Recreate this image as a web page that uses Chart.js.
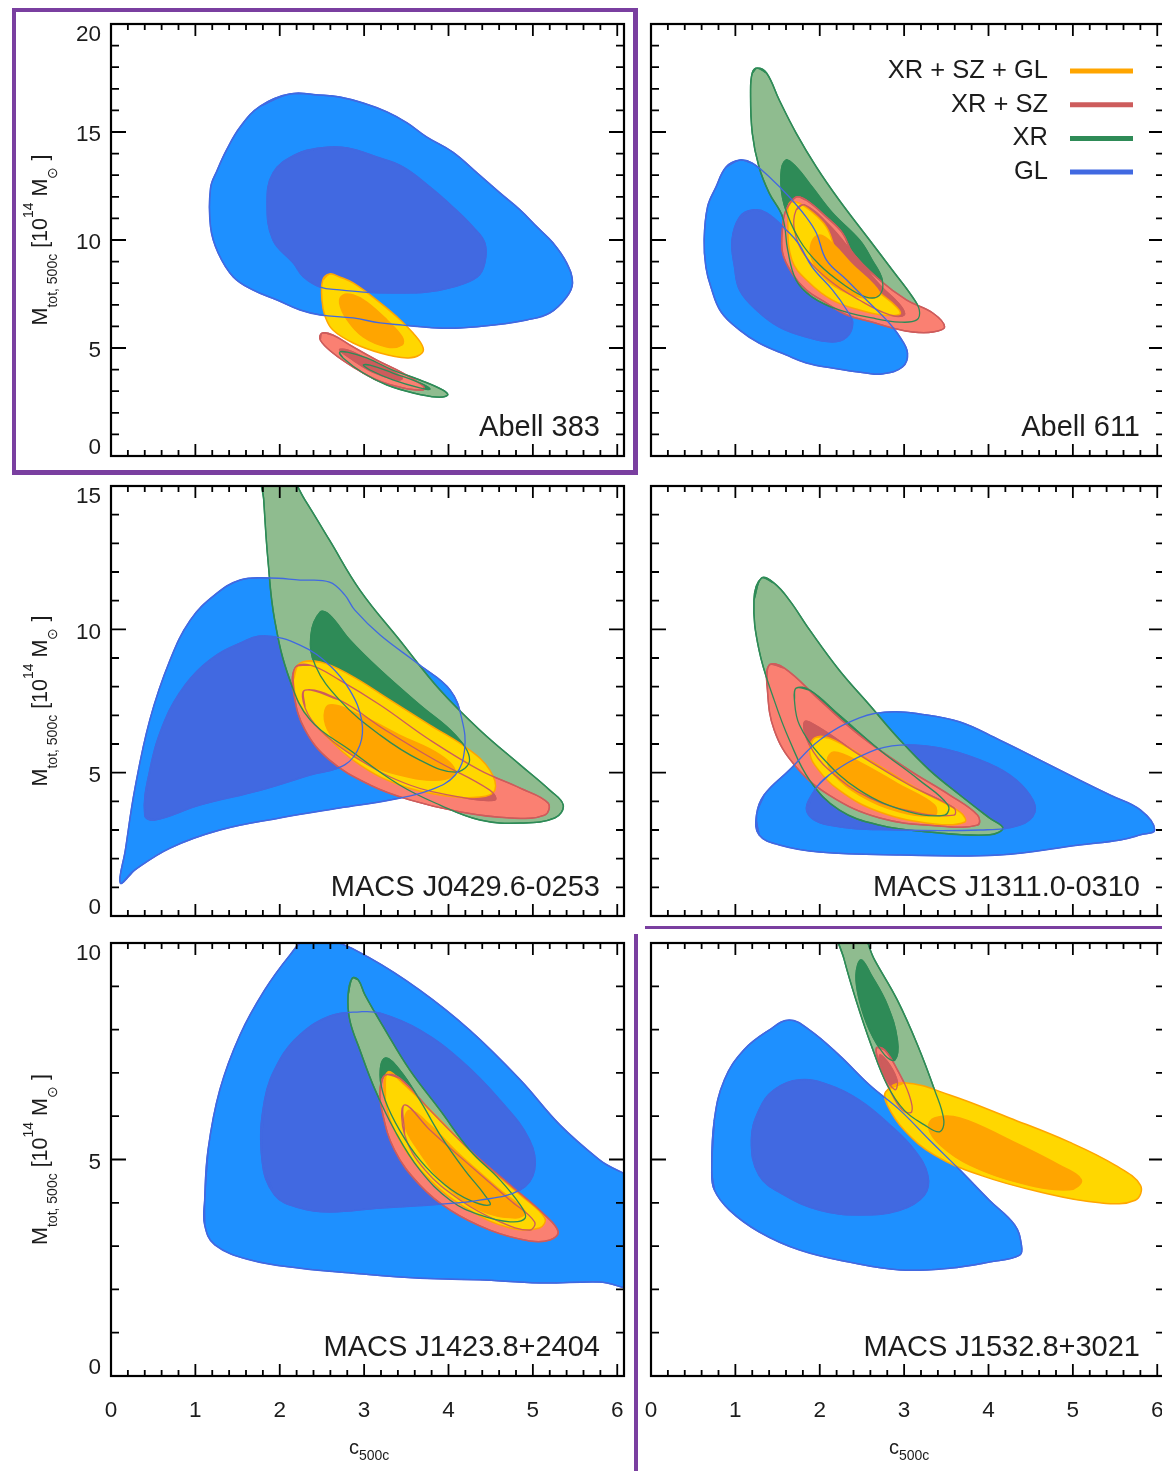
<!DOCTYPE html>
<html>
<head>
<meta charset="utf-8">
<title>c500c vs Mtot contours</title>
<script src="https://cdn.jsdelivr.net/npm/chart.js@4.4.1/dist/chart.umd.min.js"></script>
<style>
  html, body { margin: 0; padding: 0; background: #fff; overflow: hidden; }
  #page { position: relative; width: 1162px; height: 1471px; overflow: hidden; }
  #page canvas { position: absolute; }
  .mark { position: absolute; box-sizing: border-box; border: 0 solid #7a3fa0; pointer-events: none; }
</style>
</head>
<body>
<div id="page">
  <canvas id="p1" width="640" height="472" style="left:0;top:0"></canvas>
  <canvas id="p2" width="540" height="472" style="left:640px;top:0"></canvas>
  <canvas id="p3" width="640" height="458" style="left:0;top:472px"></canvas>
  <canvas id="p4" width="540" height="458" style="left:640px;top:472px"></canvas>
  <canvas id="p5" width="640" height="541" style="left:0;top:930px"></canvas>
  <canvas id="p6" width="540" height="541" style="left:640px;top:930px"></canvas>
  <div class="mark" style="left:12px;top:8px;width:626px;height:467px;border-width:4px 5px 5px 4px"></div>
  <div class="mark" style="left:645px;top:926px;width:530px;height:3px;border-top-width:3px"></div>
  <div class="mark" style="left:634px;top:934px;width:4px;height:560px;border-left-width:4px"></div>
</div>
<script>
// ---- axis ticks ----
const cTicks = [0, 1, 2, 3, 4, 5, 6];
const mTicks20 = [0, 5, 10, 15, 20];
const mTicks15 = [0, 5, 10, 15];
const mTicks10 = [0, 5, 10];

// ---- contour outlines, [c500c, Mtot] ; _out = 2 sigma, _in = 1 sigma ----
// Abell 383
const a383_gl_out = [[2.12,16.76],[2.48,16.71],[2.71,16.62],[2.99,16.34],[3.27,15.93],[3.51,15.42],[3.74,14.77],[4.05,14.07],[4.34,13.10],[4.61,12.18],[4.85,11.39],[5.05,10.60],[5.24,9.86],[5.40,8.94],[5.47,8.01],[5.40,7.36],[5.20,6.62],[4.93,6.30],[4.53,6.06],[4.14,5.93],[3.86,5.93],[3.46,6.06],[3.19,6.16],[2.87,6.39],[2.48,6.53],[2.24,6.76],[1.97,7.22],[1.68,7.69],[1.45,8.29],[1.27,9.40],[1.18,10.60],[1.18,12.41],[1.26,13.24],[1.37,14.17],[1.53,15.23],[1.77,16.20]];
const a383_gl_in = [[2.48,14.26],[2.80,14.26],[3.15,13.84],[3.46,13.38],[3.78,12.45],[4.05,11.53],[4.29,10.60],[4.43,9.86],[4.43,8.94],[4.34,8.29],[4.05,7.82],[3.74,7.59],[3.34,7.55],[2.99,7.59],[2.71,7.69],[2.48,7.82],[2.28,8.30],[2.16,8.94],[1.92,10.0],[1.85,11.71],[1.92,13.10],[2.18,13.94]];
const a383_xr_out = [[2.71,4.81],[2.80,4.81],[3.03,4.54],[3.34,3.98],[3.66,3.52],[3.93,3.06],[3.99,2.82],[3.86,2.73],[3.58,2.92],[3.27,3.29],[2.99,3.84],[2.75,4.54]];
const a383_xr_in = [[2.99,4.21],[3.07,4.21],[3.34,3.84],[3.66,3.38],[3.78,3.10],[3.66,3.15],[3.34,3.52],[3.07,3.98]];
const a383_sz_out = [[2.50,5.69],[2.63,5.60],[2.87,5.05],[3.15,4.44],[3.46,3.84],[3.70,3.24],[3.70,3.06],[3.46,3.15],[3.15,3.52],[2.87,4.12],[2.63,4.77],[2.48,5.37]];
const a383_sz_in = [[2.71,4.91],[2.80,4.91],[2.99,4.58],[3.27,4.07],[3.45,3.61],[3.39,3.52],[3.10,3.89],[2.87,4.44]];
const a383_all_out = [[2.59,8.43],[2.71,8.29],[2.87,8.01],[3.15,7.22],[3.39,6.44],[3.58,5.69],[3.70,5.0],[3.66,4.68],[3.51,4.54],[3.19,4.77],[2.87,5.23],[2.63,5.83],[2.54,6.44],[2.50,7.22],[2.51,8.15]];
const a383_all_in = [[2.75,7.45],[2.87,7.45],[3.03,7.13],[3.27,6.30],[3.45,5.51],[3.45,5.14],[3.27,5.05],[2.99,5.51],[2.80,6.30],[2.71,7.08]];

// Abell 611
const a611_gl_out = [[1.05,13.70],[1.20,13.56],[1.44,12.78],[1.64,11.99],[1.84,11.06],[1.96,10.32],[2.08,9.07],[2.32,8.15],[2.59,7.08],[2.79,6.30],[2.95,5.51],[3.04,4.77],[2.98,4.12],[2.74,3.80],[2.55,3.84],[2.15,4.07],[1.84,4.31],[1.60,4.68],[1.28,5.23],[1.05,5.83],[0.83,6.67],[0.71,7.82],[0.65,8.75],[0.63,10.0],[0.67,11.53],[0.77,12.45],[0.89,13.38]];
const a611_gl_in = [[1.20,11.39],[1.37,11.25],[1.64,10.32],[1.76,9.77],[1.91,8.75],[2.15,7.69],[2.32,6.76],[2.39,6.16],[2.32,5.51],[2.15,5.28],[1.84,5.51],[1.52,5.97],[1.25,6.76],[1.05,7.69],[0.99,8.75],[0.96,10.0],[1.05,11.06]];
const a611_xr_out = [[1.26,17.96],[1.37,17.73],[1.52,16.48],[1.72,14.95],[1.96,13.38],[2.23,11.85],[2.59,10.0],[2.86,8.61],[3.10,7.36],[3.18,6.76],[3.15,6.30],[2.95,6.20],[2.62,6.39],[2.23,6.76],[1.91,7.36],[1.72,8.15],[1.62,9.54],[1.56,11.06],[1.40,12.18],[1.28,13.38],[1.20,14.95],[1.18,16.81],[1.20,17.73]];
const a611_xr_in = [[1.60,13.70],[1.72,13.38],[1.91,12.45],[2.15,11.25],[2.47,10.0],[2.62,9.07],[2.74,8.15],[2.71,7.45],[2.55,7.36],[2.29,7.92],[2.0,8.84],[1.76,10.0],[1.58,11.62],[1.54,13.01]];
const a611_sz_out = [[1.72,11.99],[1.84,11.85],[2.08,11.06],[2.27,10.32],[2.39,9.40],[2.71,8.15],[3.03,7.22],[3.34,6.62],[3.48,5.97],[3.34,5.74],[3.10,5.74],[2.86,5.93],[2.62,6.20],[2.32,6.53],[2.08,7.08],[1.84,7.69],[1.67,8.47],[1.56,9.40],[1.56,10.60],[1.60,11.39]];
const a611_sz_in = [[1.82,11.62],[2.11,10.69],[2.41,9.31],[2.71,7.92],[2.95,6.99],[3.0,6.53],[2.83,6.53],[2.47,7.22],[2.11,8.15],[1.82,9.31],[1.70,10.46],[1.72,11.39]];
const a611_all_out = [[1.64,11.71],[1.72,11.76],[1.88,11.39],[2.08,10.60],[2.23,9.21],[2.47,8.29],[2.71,7.55],[2.91,6.90],[2.95,6.57],[2.74,6.53],[2.47,6.76],[2.15,7.22],[1.88,8.01],[1.67,9.07],[1.62,11.06]];
const a611_all_in = [[2.0,10.23],[2.17,9.77],[2.39,8.84],[2.62,8.01],[2.71,7.45],[2.55,7.31],[2.32,7.55],[2.08,8.15],[1.91,9.07],[1.90,9.86]];

// MACS J0429.6-0253
const j0429_gl_out = [[0.11,1.15],[0.17,2.30],[0.28,4.39],[0.46,6.84],[0.70,8.93],[0.94,10.32],[1.23,11.20],[1.53,11.72],[1.88,11.79],[2.24,11.72],[2.59,11.65],[2.77,11.20],[2.89,10.67],[3.19,9.80],[3.66,8.75],[4.02,7.88],[4.16,6.84],[4.19,5.79],[4.08,4.92],[3.78,4.39],[3.31,4.05],[2.71,3.77],[2.0,3.42],[1.29,3.0],[0.70,2.37],[0.28,1.60]];
const j0429_gl_in = [[0.40,3.52],[0.46,5.09],[0.64,6.84],[0.88,8.06],[1.17,8.93],[1.53,9.52],[1.82,9.77],[2.24,9.45],[2.59,8.75],[2.83,7.88],[2.97,6.84],[2.95,5.96],[2.77,5.27],[2.36,4.92],[1.77,4.39],[1.05,3.87],[0.52,3.35]];
const j0429_xr_out = [[1.79,15.56],[2.06,15.56],[2.30,14.51],[2.59,13.11],[2.95,11.37],[3.42,9.63],[3.90,7.88],[4.37,6.49],[4.85,5.27],[5.20,4.39],[5.36,3.87],[5.26,3.42],[4.85,3.24],[4.37,3.35],[3.90,3.87],[3.42,4.57],[2.83,5.79],[2.36,6.84],[2.12,8.23],[1.94,10.32],[1.86,12.42],[1.81,14.51]];
const j0429_xr_in = [[2.48,10.60],[2.59,10.50],[2.83,9.63],[3.19,8.58],[3.66,7.36],[4.08,6.31],[4.25,5.44],[4.08,5.02],[3.66,5.44],[3.19,6.31],[2.71,7.53],[2.42,8.75],[2.37,9.80]];
const j0429_sz_out = [[2.18,8.65],[2.36,8.75],[2.71,8.23],[3.19,7.36],[3.78,6.14],[4.37,5.09],[4.85,4.46],[5.18,3.94],[5.14,3.52],[4.73,3.42],[4.14,3.63],[3.54,4.05],[3.07,4.57],[2.59,5.44],[2.30,6.49],[2.17,7.71]];
const j0429_sz_in = [[2.30,7.88],[2.71,7.53],[3.25,6.49],[3.84,5.44],[4.49,4.39],[4.55,4.05],[4.14,4.15],[3.54,4.57],[2.95,5.44],[2.48,6.49],[2.30,7.26]];
const j0429_all_out = [[2.24,8.82],[2.48,8.86],[2.83,8.41],[3.31,7.53],[3.78,6.66],[4.25,5.79],[4.49,5.09],[4.55,4.39],[4.37,4.15],[3.90,4.22],[3.42,4.57],[2.95,5.27],[2.54,6.31],[2.24,7.36],[2.16,8.23]];
const j0429_all_in = [[2.59,7.36],[2.95,7.01],[3.42,6.31],[3.90,5.62],[4.08,5.02],[3.90,4.74],[3.42,4.92],[2.95,5.44],[2.65,6.14],[2.53,6.84]];

// MACS J1311.0-0310
const j1311_gl_out = [[1.25,3.52],[1.34,4.22],[1.64,5.09],[2.0,6.14],[2.47,6.91],[2.83,7.12],[3.18,7.05],[3.66,6.77],[4.13,6.14],[4.61,5.44],[5.08,4.74],[5.44,4.22],[5.80,3.70],[5.97,3.0],[5.80,2.83],[5.56,2.65],[5.08,2.48],[4.13,2.13],[2.95,2.13],[2.0,2.23],[1.52,2.48],[1.28,2.83]];
const j1311_gl_in = [[1.94,4.39],[2.11,4.92],[2.59,5.72],[2.95,5.96],[3.42,5.86],[3.90,5.44],[4.25,4.92],[4.49,4.22],[4.55,3.63],[4.37,3.17],[3.90,3.0],[2.95,3.0],[2.11,3.17],[1.85,3.63]];
const j1311_xr_out = [[1.31,11.79],[1.46,11.61],[1.64,11.02],[1.88,9.98],[2.23,8.58],[2.59,7.36],[2.95,6.14],[3.30,5.09],[3.66,4.22],[4.01,3.42],[4.17,3.07],[4.01,2.83],[3.30,2.93],[2.71,3.17],[2.23,3.70],[1.88,4.74],[1.64,6.14],[1.46,7.53],[1.28,9.28],[1.22,11.02]];
const j1311_xr_in = [[1.72,7.95],[1.88,7.88],[2.23,7.01],[2.71,5.79],[3.18,4.74],[3.52,3.87],[3.48,3.52],[3.06,3.63],[2.47,4.39],[2.0,5.62],[1.76,6.66],[1.70,7.53]];
const j1311_sz_out = [[1.40,8.75],[1.58,8.65],[2.0,7.53],[2.47,6.31],[3.06,5.09],[3.54,4.22],[3.87,3.52],[3.87,3.17],[3.42,3.14],[2.71,3.42],[2.11,4.22],[1.70,5.27],[1.46,6.49],[1.38,7.88]];
const j1311_sz_in = [[1.82,6.77],[2.0,6.56],[2.47,5.62],[3.06,4.57],[3.59,3.77],[3.59,3.52],[3.18,3.59],[2.59,4.12],[2.11,5.09],[1.88,5.96]];
const j1311_all_out = [[1.94,6.21],[2.11,6.21],[2.59,5.44],[3.18,4.39],[3.66,3.63],[3.72,3.28],[3.36,3.21],[2.71,3.63],[2.23,4.39],[1.94,5.27],[1.88,5.79]];
const j1311_all_in = [[2.17,5.72],[2.47,5.37],[2.95,4.57],[3.36,3.87],[3.36,3.52],[2.95,3.63],[2.47,4.22],[2.17,4.92],[2.09,5.44]];

// MACS J1423.8+2404
const j1423_gl_out = [[1.11,4.06],[1.15,5.22],[1.29,6.61],[1.53,7.88],[1.82,8.91],[2.12,9.72],[2.30,10.07],[2.59,10.07],[3.07,9.65],[3.66,8.91],[4.25,7.99],[4.85,6.84],[5.32,5.80],[5.79,4.99],[6.27,4.30],[6.27,2.10],[5.79,2.17],[5.08,2.15],[4.37,2.22],[3.66,2.26],[2.95,2.36],[2.24,2.49],[1.65,2.68],[1.23,3.03],[1.11,3.49]];
const j1423_gl_in = [[1.79,4.99],[1.82,6.37],[2.0,7.30],[2.24,7.88],[2.59,8.31],[2.95,8.41],[3.19,8.38],[3.66,7.99],[4.14,7.30],[4.61,6.37],[4.96,5.45],[5.02,4.76],[4.85,4.30],[4.37,4.06],[3.78,3.95],[3.19,3.88],[2.59,3.79],[2.24,3.88],[1.94,4.18]];
const j1423_xr_out = [[2.86,9.19],[2.81,8.80],[2.83,8.22],[2.95,7.53],[3.13,6.61],[3.36,5.68],[3.66,4.76],[4.02,4.06],[4.37,3.72],[4.73,3.56],[4.91,3.65],[4.85,3.95],[4.61,4.53],[4.25,5.22],[3.90,6.14],[3.54,7.07],[3.25,7.99],[3.01,8.80],[2.93,9.15]];
const j1423_xr_in = [[3.25,7.34],[3.19,6.95],[3.25,6.37],[3.42,5.68],[3.66,4.99],[3.96,4.41],[4.25,4.06],[4.49,3.95],[4.43,4.18],[4.19,4.76],[3.90,5.57],[3.66,6.37],[3.42,7.07]];
const j1423_sz_out = [[3.25,6.95],[3.42,6.88],[3.78,6.14],[4.25,5.22],[4.73,4.41],[5.14,3.72],[5.30,3.33],[5.20,3.14],[4.96,3.12],[4.49,3.37],[4.02,3.83],[3.66,4.41],[3.36,5.22],[3.21,6.14],[3.19,6.65]];
const j1423_sz_in = [[3.48,6.26],[3.78,5.68],[4.25,4.87],[4.73,4.06],[5.02,3.56],[4.96,3.37],[4.61,3.56],[4.14,4.06],[3.72,4.76],[3.48,5.57]];
const j1423_all_out = [[3.28,7.02],[3.48,6.72],[3.90,5.91],[4.37,4.99],[4.85,4.18],[5.14,3.65],[5.08,3.42],[4.73,3.42],[4.25,3.83],[3.78,4.53],[3.42,5.45],[3.25,6.37]];
const j1423_all_in = [[3.54,6.14],[3.78,5.80],[4.14,5.10],[4.61,4.30],[4.91,3.79],[4.79,3.65],[4.37,3.83],[3.96,4.41],[3.64,5.22],[3.48,5.80]];

// MACS J1532.8+3021
const j1532_gl_out = [[0.72,4.76],[0.75,5.91],[0.87,6.84],[1.10,7.53],[1.40,7.99],[1.64,8.22],[1.88,7.99],[2.23,7.41],[2.59,6.72],[2.95,6.14],[3.30,5.45],[3.66,4.76],[4.01,4.06],[4.31,3.49],[4.39,3.03],[4.37,2.79],[4.01,2.63],[3.54,2.49],[2.95,2.45],[2.35,2.63],[1.76,2.91],[1.28,3.33],[0.93,3.83],[0.75,4.30]];
const j1532_gl_in = [[1.19,5.45],[1.28,6.14],[1.46,6.61],[1.76,6.84],[2.11,6.72],[2.47,6.37],[2.83,5.80],[3.12,5.22],[3.28,4.64],[3.24,4.18],[2.95,3.83],[2.47,3.72],[2.0,3.83],[1.58,4.18],[1.28,4.64]];
const j1532_xr_out = [[2.21,10.30],[2.29,9.61],[2.43,8.68],[2.61,7.64],[2.80,6.72],[3.0,6.14],[3.24,5.80],[3.42,5.64],[3.47,5.91],[3.36,6.61],[3.16,7.64],[2.92,8.68],[2.65,9.61],[2.47,10.30]];
const j1532_xr_in = [[2.43,9.26],[2.47,8.68],[2.59,7.99],[2.77,7.41],[2.89,7.30],[2.92,7.76],[2.80,8.57],[2.61,9.26],[2.49,9.61]];
const j1532_sz_out = [[2.67,7.57],[2.71,7.18],[2.83,6.61],[2.98,6.14],[3.09,6.10],[3.06,6.49],[2.92,7.07],[2.77,7.53]];
const j1532_sz_in = [[2.71,7.41],[2.77,6.95],[2.89,6.61],[2.92,6.79],[2.83,7.18]];
const j1532_all_out = [[2.78,6.56],[3.0,6.77],[3.54,6.49],[4.25,5.96],[4.96,5.40],[5.50,4.87],[5.80,4.41],[5.74,4.06],[5.32,4.0],[4.61,4.25],[3.90,4.64],[3.36,5.10],[3.0,5.68],[2.80,6.26]];
const j1532_all_in = [[3.36,5.96],[3.66,5.96],[4.25,5.45],[4.84,4.87],[5.10,4.53],[4.96,4.30],[4.37,4.46],[3.78,4.87],[3.43,5.33],[3.29,5.73]];

// ---- legend ----
const legendLabels = ['XR + SZ + GL', 'XR + SZ', 'XR', 'GL'];
const legendKeys = ['all', 'sz', 'xr', 'gl'];

const FONT = '"Liberation Sans", Arial, Helvetica, sans-serif';
const TEXT = '#1c1c1c';
const COLORS = {
  gl:  { out: '#1e90ff', inn: '#4169e1', line: '#4169e1' },
  xr:  { out: '#8fbc8f', inn: '#2e8b57', line: '#2e8b57' },
  sz:  { out: '#fa8072', inn: '#cd5c5c', line: '#cd5c5c' },
  all: { out: '#ffd700', inn: '#ffa500', line: '#ffa500' }
};

// closed path, wrapped so the spline has no kink at the seam
function ring(arr) {
  const p = arr.map(([x, y]) => ({ x, y }));
  return [p[p.length - 1], ...p, p[0], p[1]];
}
function area(arr, fillCol, lineCol) {
  return { data: ring(arr), backgroundColor: fillCol, borderColor: lineCol, borderWidth: 1.5,
           fill: 'shape', tension: 0.4, pointRadius: 0, clip: 0 };
}
function outline(arr, lineCol) {
  return { data: ring(arr), borderColor: lineCol, borderWidth: 1.3, fill: false,
           tension: 0.4, pointRadius: 0, clip: 0 };
}

function buildDatasets(c) {
  const list = [];
  ['gl', 'xr', 'sz', 'all'].forEach(k => {
    list.push(area(c[k][0], COLORS[k].out, COLORS[k].line));
    list.push(area(c[k][1], COLORS[k].inn, COLORS[k].line));
  });
  ['sz', 'xr', 'gl'].forEach(k => {
    list.push(outline(c[k][0], COLORS[k].line));
    list.push(outline(c[k][1], COLORS[k].line));
  });
  // first in list = bottom layer
  list.forEach((d, i) => { d.order = list.length - i; });
  return list;
}

// axis frame, inward ticks, labels, titles
const framePlugin = {
  id: 'frame',
  afterDraw(chart, args, o) {
    const { ctx, chartArea: a } = chart;
    const x = chart.scales.x, y = chart.scales.y;
    ctx.save();
    ctx.strokeStyle = '#000';
    ctx.lineWidth = 1.8;
    ctx.beginPath();
    for (let i = 0; i * 0.2 <= x.max + 1e-6; i++) {
      const px = x.getPixelForValue(i * 0.2), len = i % 5 === 0 ? 12 : 6;
      ctx.moveTo(px, a.bottom); ctx.lineTo(px, a.bottom - len);
      ctx.moveTo(px, a.top); ctx.lineTo(px, a.top + len);
    }
    for (let v = 0; v <= y.max + 1e-6; v++) {
      const py = y.getPixelForValue(v), len = v % 5 === 0 ? 15 : 8;
      ctx.moveTo(a.left, py); ctx.lineTo(a.left + len, py);
      ctx.moveTo(a.right, py); ctx.lineTo(a.right - len, py);
    }
    ctx.stroke();
    ctx.lineWidth = 2.2;
    ctx.strokeRect(a.left, a.top, a.right - a.left, a.bottom - a.top);

    ctx.fillStyle = TEXT;
    ctx.font = '22.5px ' + FONT;
    if (o.yTicks) {
      ctx.textAlign = 'right';
      ctx.textBaseline = 'middle';
      o.yTicks.forEach(v => {
        let py = y.getPixelForValue(v) + 3;
        py = Math.min(Math.max(py, a.top + 11), a.bottom - 8);
        ctx.fillText(String(v), a.left - 10, py);
      });
      // y title, rotated
      const parts = [['M', 21.5, 0], ['tot, 500c', 14, 10], [' [10', 21.5, 0], ['14', 14, -14],
                     [' M', 21.5, 0], ['\u2299', 14, 10], [' ]', 21.5, 0]];
      ctx.save();
      ctx.translate(47, (a.top + a.bottom) / 2);
      ctx.rotate(-Math.PI / 2);
      ctx.textAlign = 'left';
      ctx.textBaseline = 'alphabetic';
      let w = 0;
      parts.forEach(p => { ctx.font = p[1] + 'px ' + FONT; w += ctx.measureText(p[0]).width; });
      let cx = -w / 2;
      parts.forEach(p => {
        ctx.font = p[1] + 'px ' + FONT;
        ctx.fillText(p[0], cx, p[2]);
        cx += ctx.measureText(p[0]).width;
      });
      ctx.restore();
    }
    if (o.xTicks) {
      ctx.font = '22.5px ' + FONT;
      ctx.textAlign = 'center';
      ctx.textBaseline = 'middle';
      o.xTicks.forEach(v => ctx.fillText(String(v), x.getPixelForValue(v), a.bottom + 35));
      // x title
      const mid = x.getPixelForValue(3) + 5;
      ctx.textAlign = 'left';
      ctx.textBaseline = 'alphabetic';
      ctx.font = '20px ' + FONT;
      const w1 = ctx.measureText('c').width;
      ctx.font = '14px ' + FONT;
      const w2 = ctx.measureText('500c').width;
      const sx = mid - (w1 + w2) / 2;
      ctx.font = '20px ' + FONT;
      ctx.fillText('c', sx, a.bottom + 78);
      ctx.font = '14px ' + FONT;
      ctx.fillText('500c', sx + w1, a.bottom + 84);
    }
    // cluster name
    ctx.font = '29px ' + FONT;
    ctx.textAlign = 'right';
    ctx.textBaseline = 'middle';
    ctx.fillText(o.name, a.right - 24, a.bottom - 28);

    if (o.legend) {
      ctx.font = '25.5px ' + FONT;
      legendLabels.forEach((lab, i) => {
        const ly = a.top + 47 + i * 33.7;
        ctx.fillStyle = TEXT;
        ctx.textAlign = 'right';
        ctx.fillText(lab, a.left + 397, ly);
        ctx.strokeStyle = COLORS[legendKeys[i]].line;
        ctx.lineWidth = 5;
        ctx.beginPath();
        ctx.moveTo(a.left + 419, ly); ctx.lineTo(a.left + 482, ly);
        ctx.stroke();
      });
    }
    ctx.restore();
  }
};

const cols = [
  { padL: 111, padR: 16 },
  { padL: 11, padR: 16 }
];
const rows = [
  { padT: 24, padB: 16, yMax: 20, ticks: mTicks20 },
  { padT: 14, padB: 14, yMax: 15, ticks: mTicks15 },
  { padT: 13, padB: 95, yMax: 10, ticks: mTicks10 }
];

const panels = [
  { id: 'p1', name: 'Abell 383', col: 0, row: 0,
    c: { gl: [a383_gl_out, a383_gl_in], xr: [a383_xr_out, a383_xr_in], sz: [a383_sz_out, a383_sz_in], all: [a383_all_out, a383_all_in] } },
  { id: 'p2', name: 'Abell 611', col: 1, row: 0, legend: true,
    c: { gl: [a611_gl_out, a611_gl_in], xr: [a611_xr_out, a611_xr_in], sz: [a611_sz_out, a611_sz_in], all: [a611_all_out, a611_all_in] } },
  { id: 'p3', name: 'MACS J0429.6-0253', col: 0, row: 1,
    c: { gl: [j0429_gl_out, j0429_gl_in], xr: [j0429_xr_out, j0429_xr_in], sz: [j0429_sz_out, j0429_sz_in], all: [j0429_all_out, j0429_all_in] } },
  { id: 'p4', name: 'MACS J1311.0-0310', col: 1, row: 1,
    c: { gl: [j1311_gl_out, j1311_gl_in], xr: [j1311_xr_out, j1311_xr_in], sz: [j1311_sz_out, j1311_sz_in], all: [j1311_all_out, j1311_all_in] } },
  { id: 'p5', name: 'MACS J1423.8+2404', col: 0, row: 2,
    c: { gl: [j1423_gl_out, j1423_gl_in], xr: [j1423_xr_out, j1423_xr_in], sz: [j1423_sz_out, j1423_sz_in], all: [j1423_all_out, j1423_all_in] } },
  { id: 'p6', name: 'MACS J1532.8+3021', col: 1, row: 2,
    c: { gl: [j1532_gl_out, j1532_gl_in], xr: [j1532_xr_out, j1532_xr_in], sz: [j1532_sz_out, j1532_sz_in], all: [j1532_all_out, j1532_all_in] } }
];

panels.forEach(p => {
  const col = cols[p.col], row = rows[p.row];
  new Chart(document.getElementById(p.id), {
    type: 'line',
    data: { datasets: buildDatasets(p.c) },
    options: {
      responsive: false,
      animation: false,
      events: [],
      layout: { autoPadding: false, padding: { left: col.padL, right: col.padR, top: row.padT, bottom: row.padB } },
      scales: {
        x: { type: 'linear', min: 0, max: 6.08, display: false },
        y: { type: 'linear', min: 0, max: row.yMax, display: false }
      },
      plugins: {
        legend: { display: false },
        tooltip: { enabled: false },
        frame: {
          name: p.name,
          legend: !!p.legend,
          yTicks: p.col === 0 ? row.ticks : null,
          xTicks: p.row === 2 ? cTicks : null
        }
      }
    },
    plugins: [framePlugin]
  });
});
</script>
</body>
</html>
